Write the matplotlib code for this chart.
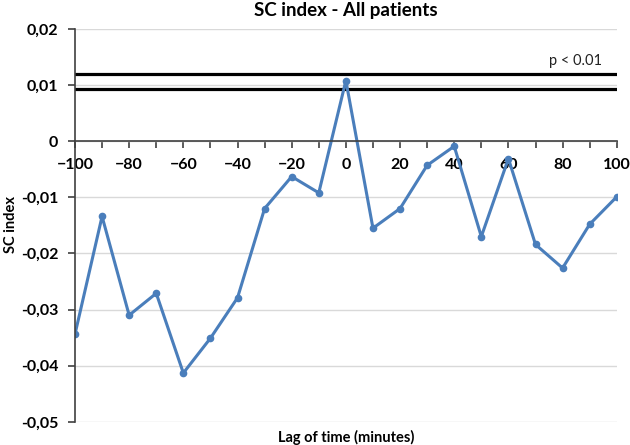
import numpy as np
import matplotlib
matplotlib.use("Agg")
import matplotlib.pyplot as plt
from matplotlib.ticker import MultipleLocator, FuncFormatter

plt.rcParams['font.family'] = ['Lato', 'DejaVu Sans']

lags = [-100, -90, -80, -70, -60, -50, -40, -30, -20, -10, 0,
        10, 20, 30, 40, 50, 60, 70, 80, 90, 100]
sc_index = [-0.0344, -0.0134, -0.0310, -0.0271, -0.0413, -0.0351, -0.0279,
            -0.0120, -0.0063, -0.0092, 0.0108, -0.0155, -0.0120, -0.0043,
            -0.0009, -0.0170, -0.0031, -0.0184, -0.0226, -0.0148, -0.0099]
thresholds = [0.0120, 0.0093]
threshold_label = "p < 0.01"

fig = plt.figure(figsize=(6.3, 4.45), dpi=100)
ax = fig.add_axes([0.119, 0.052, 0.860, 0.883])

for t in thresholds:
    ax.axhline(t, color='black', lw=2.3, zorder=3)
ax.text(94.5, 0.0143, threshold_label, ha='right', va='center', fontsize=10.5, color='#222222')

ax.plot(lags, sc_index, color='#4A7EBB', lw=2.2, marker='o', ms=4.5, zorder=4)

ax.set_xlim(-100, 100)
ax.set_ylim(-0.05, 0.02)
ax.yaxis.set_major_locator(MultipleLocator(0.01))
ax.xaxis.set_major_locator(MultipleLocator(20))
ax.xaxis.set_minor_locator(MultipleLocator(10))

def yfmt(v, pos):
    if abs(v) < 1e-9:
        return "0"
    return ("%.2f" % v).replace('.', ',')
ax.yaxis.set_major_formatter(FuncFormatter(yfmt))

ax.grid(axis='y', color='#d9d9d9', lw=1)
ax.set_axisbelow(True)

ax.spines['bottom'].set_position(('data', 0))
ax.spines['top'].set_visible(False)
ax.spines['right'].set_visible(False)
for s in ['bottom', 'left']:
    ax.spines[s].set_color('#404040')
    ax.spines[s].set_linewidth(1.2)
    ax.spines[s].set_zorder(5)

ax.tick_params(axis='both', which='both', direction='out', length=5, color='#404040', width=1.2)
ax.tick_params(axis='x', which='major', labelsize=11.5, pad=7)
ax.tick_params(axis='y', labelsize=11.5, pad=7)
for lab in ax.get_xticklabels() + ax.get_yticklabels():
    lab.set_fontweight('bold')

fig.text(0.549, 0.977, "SC index - All patients", ha='center', va='center', fontsize=13.5, fontweight='bold')
fig.text(0.549, 0.018, "Lag of time (minutes)", ha='center', va='center', fontsize=10.5, fontweight='bold')
fig.text(0.017, 0.495, "SC index", ha='center', va='center', rotation=90, fontsize=10.5, fontweight='bold')

fig.savefig("out.png", dpi=100)
